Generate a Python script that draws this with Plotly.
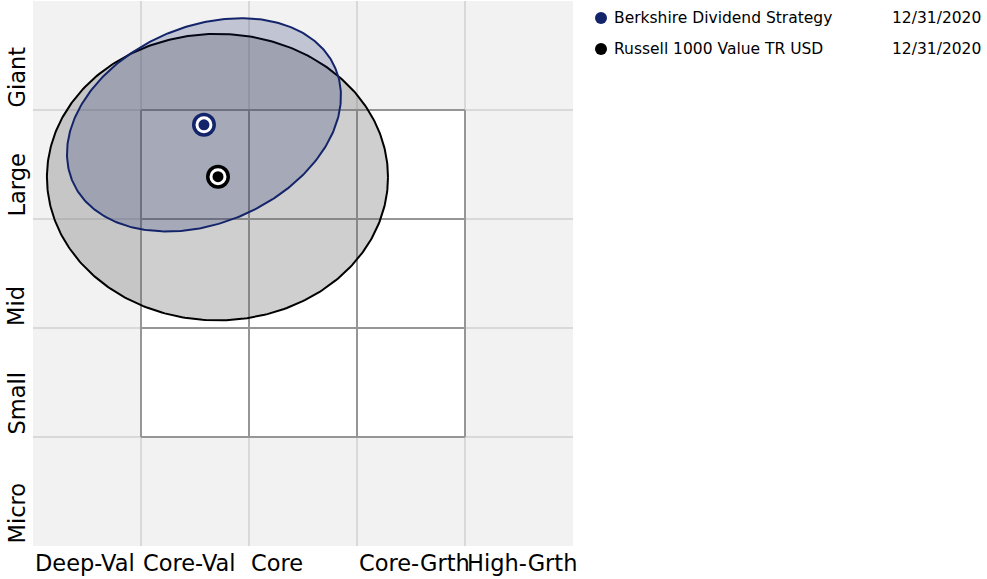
import numpy as np
import plotly.graph_objects as go

# ---- data ----
x_labels = ["Deep-Val", "Core-Val", "Core", "Core-Grth", "High-Grth"]
y_labels = ["Micro", "Small", "Mid", "Large", "Giant"]

series_names = ["Berkshire Dividend Strategy", "Russell 1000 Value TR USD"]
series_dates = ["12/31/2020", "12/31/2020"]
series_colors = ["#14246a", "#000000"]
series_fill = ["rgba(12,28,95,0.21)", "rgba(110,110,110,0.33)"]

# centroid (style x, size y) in style-box units
point_x = [1.583, 1.713]
point_y = [3.864, 3.388]

# ownership zone ellipses: centre, semi-axes, rotation (deg)
zone_cx = [1.583, 1.708]
zone_cy = [3.864, 3.384]
zone_a = [1.323, 1.579]
zone_b = [0.903, 1.314]
zone_angle = [22.9, 0.0]

BG = "#f2f2f2"
GRID = "#d9d9d9"
BOX = "#969696"
FONT = "DejaVu Sans"

fig = go.Figure()

# ellipses (benchmark first, fund on top)
t = np.linspace(0, 2 * np.pi, 361)
for i in [1, 0]:
    th = np.deg2rad(zone_angle[i])
    ex = zone_a[i] * np.cos(t)
    ey = zone_b[i] * np.sin(t)
    xs = zone_cx[i] + ex * np.cos(th) - ey * np.sin(th)
    ys = zone_cy[i] + ex * np.sin(th) + ey * np.cos(th)
    fig.add_trace(go.Scatter(x=xs, y=ys, mode="lines", fill="toself",
                             fillcolor=series_fill[i],
                             line=dict(color=series_colors[i], width=2),
                             hoverinfo="skip", showlegend=False))

# centroid markers
for i in range(2):
    fig.add_trace(go.Scatter(x=[point_x[i]], y=[point_y[i]], mode="markers",
                             marker=dict(size=24, color=series_colors[i], line=dict(width=0)),
                             hoverinfo="skip", showlegend=False))
    fig.add_trace(go.Scatter(x=[point_x[i]], y=[point_y[i]], mode="markers",
                             marker=dict(size=14, color=series_colors[i],
                                         line=dict(width=3, color="white")),
                             name=series_names[i], showlegend=False))

shapes = []
n = len(x_labels)
# background grid lines
for k in range(1, n):
    shapes.append(dict(type="line", xref="x", yref="y", x0=k, x1=k, y0=0, y1=n,
                       line=dict(color=GRID, width=2), layer="below"))
    shapes.append(dict(type="line", xref="x", yref="y", x0=0, x1=n, y0=k, y1=k,
                       line=dict(color=GRID, width=2), layer="below"))
# white 3x3 style box
shapes.append(dict(type="rect", xref="x", yref="y", x0=1, x1=4, y0=1, y1=4,
                   fillcolor="white", line=dict(width=0), layer="below"))
for k in range(1, 5):
    shapes.append(dict(type="line", xref="x", yref="y", x0=k, x1=k, y0=1, y1=4,
                       line=dict(color=BOX, width=2), layer="below"))
    shapes.append(dict(type="line", xref="x", yref="y", x0=1, x1=4, y0=k, y1=k,
                       line=dict(color=BOX, width=2), layer="below"))

annotations = []
for i, lab in enumerate(x_labels):
    annotations.append(dict(text=lab, xref="x", x=i, xanchor="left", xshift=0,
                            yref="paper", y=0, yanchor="top", yshift=-2,
                            showarrow=False, font=dict(family=FONT, size=22.5, color="#000")))
for i, lab in enumerate(y_labels):
    annotations.append(dict(text=lab, xref="paper", x=-17 / 540, xanchor="center",
                            yref="y", y=i, yanchor="bottom", textangle=-90,
                            showarrow=False, font=dict(family=FONT, size=22.5, color="#000")))

# legend rows
PW, PH, L, T = 540, 545, 33, 1
def px(xp):
    return (xp - L) / PW
def py(yp):
    return (T + PH - yp) / PH

legend_y = [18, 49]
for i in range(2):
    shapes.append(dict(type="circle", xref="paper", yref="paper", xsizemode="pixel",
                       ysizemode="pixel", xanchor=px(601), yanchor=py(legend_y[i]),
                       x0=-6, x1=6, y0=-6, y1=6, fillcolor=series_colors[i],
                       line=dict(width=0)))
    annotations.append(dict(text=series_names[i], xref="paper", x=px(612), xanchor="left",
                            yref="paper", y=py(legend_y[i]), yanchor="middle",
                            showarrow=False, font=dict(family=FONT, size=15.5, color="#000")))
    annotations.append(dict(text=series_dates[i], xref="paper", x=px(890), xanchor="left",
                            yref="paper", y=py(legend_y[i]), yanchor="middle",
                            showarrow=False, font=dict(family=FONT, size=15.5, color="#000")))

fig.update_layout(
    width=987, height=579,
    margin=dict(l=L, r=987 - L - PW, t=T, b=579 - T - PH),
    plot_bgcolor=BG, paper_bgcolor="white",
    xaxis=dict(range=[0, n], showgrid=False, zeroline=False, showticklabels=False,
               fixedrange=True),
    yaxis=dict(range=[0, n], showgrid=False, zeroline=False, showticklabels=False,
               fixedrange=True),
    shapes=shapes, annotations=annotations, showlegend=False,
    font=dict(family=FONT),
)

fig.write_html("out.html", config={"displayModeBar": False},
               post_script="document.body.style.margin='0';document.body.style.overflow='hidden';")
